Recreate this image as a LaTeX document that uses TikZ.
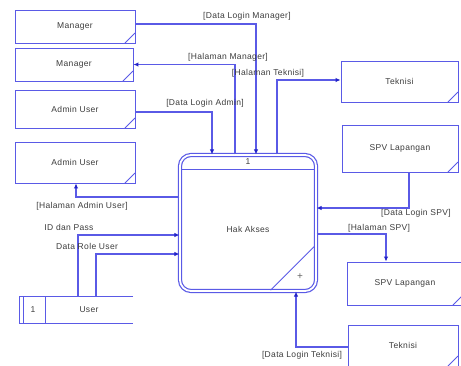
\documentclass[tikz,border=0pt]{standalone}
\usepackage{fontspec}
\setmainfont{Liberation Sans}[LetterSpace=4]
\usetikzlibrary{arrows.meta,calc}
\definecolor{lc}{RGB}{90,90,230}
\definecolor{ac}{RGB}{35,35,200}
\definecolor{tc}{RGB}{60,60,60}
\tikzset{
  entity/.style={draw=lc, line width=0.9pt, fill=white, font=\fontsize{8.5}{10}\selectfont, text=tc,
    path picture={\draw[lc, line width=0.9pt] ([xshift=-10pt]path picture bounding box.south east) -- ([yshift=10pt]path picture bounding box.south east);}},
  flow/.style={draw=lc, line width=1.2pt, -{Latex[length=5pt,width=4.5pt,color=ac]}},
  lab/.style={font=\fontsize{8.5}{10}\selectfont, text=tc, inner sep=0pt},
  proc/.style={draw=lc, double=white, double distance=1.8pt, line width=1.2pt, rounded corners=11pt, minimum width=136pt, minimum height=136pt, inner sep=0pt},
}
\begin{document}
\begin{tikzpicture}[x=1pt,y=-1pt]
\useasboundingbox (0,0) rectangle (461,365);
% external entities
\node[entity, minimum width=120pt, minimum height=33pt] (m1) at (75,26.5) {Manager};
\node[entity, minimum width=118pt, minimum height=33pt] (m2) at (74,64.5) {Manager};
\node[entity, minimum width=120pt, minimum height=38pt] (a1) at (75,109) {Admin User};
\node[entity, minimum width=120pt, minimum height=41pt] (a2) at (75,162.5) {Admin User};
\node[entity, minimum width=117pt, minimum height=41pt] (t1) at (399.5,81.5) {Teknisi};
\node[entity, minimum width=116pt, minimum height=47pt] (s1) at (400,148.5) {SPV Lapangan};
\node[entity, minimum width=116pt, minimum height=43pt] (s2) at (405,283.5) {SPV Lapangan};
\node[entity, minimum width=110pt, minimum height=41pt] (t2) at (403,345.5) {Teknisi};
% process
\node[proc] (p) at (248,223) {};
\draw[lc, line width=1.1pt] ($(p.north west)+(2.5,15.5)$) -- ($(p.north east)+(-2.5,15.5)$);
\draw[lc, line width=0.9pt] ($(p.south east)+(-2.5,-45)$) -- ($(p.south east)+(-46,-1.5)$);
\node[lab] (pn) at (248,161.5) {1};
\node[lab] (pt) at (248,229) {Hak Akses};
\node[lab, text=tc!80, font=\fontsize{10}{12}\selectfont] (pp) at (300,277) {+};
% data store
\node[minimum width=113pt, minimum height=26pt, inner sep=0pt] (u) at (76.5,310) {};
\draw[lc, line width=0.9pt] (u.north east) -- (u.north west) -- (u.south west) -- (u.south east);
\draw[lc, line width=0.9pt] ([xshift=4pt]u.north west) -- ([xshift=4pt]u.south west);
\draw[lc, line width=0.9pt] ([xshift=26pt]u.north west) -- ([xshift=26pt]u.south west);
\node[lab] (un) at (33,310) {1};
\node[lab] (ut) at (89,310) {User};
% flows
\draw[flow] ([yshift=2.5pt]m1.east) -| ([xshift=8pt]p.north);
\draw[flow] ([xshift=-13pt]p.north) |- (m2.east);
\draw[flow] ([xshift=29pt]p.north) |- ([yshift=1.5pt]t1.west);
\draw[flow] ([yshift=-3pt]a1.east) -| ([xshift=-36pt]p.north);
\draw[flow] ([yshift=26pt]p.west) -| ([xshift=1pt]a2.south);
\draw[flow] ([xshift=1.5pt]u.north) |- ([yshift=-12pt]p.west);
\draw[flow] ([xshift=19.5pt]u.north) |- ([yshift=-31pt]p.west);
\draw[flow] ([xshift=9pt]s1.south) |- ([yshift=15pt]p.east);
\draw[flow] ([yshift=-11pt]p.east) -| ([xshift=-19pt]s2.north);
\draw[flow] ([yshift=-1.5pt]t2.west) -| ([xshift=48pt]p.south);
% labels
\node[lab] (l1) at (247,16) {[Data Login Manager]};
\node[lab] (l2) at (228,57) {[Halaman Manager]};
\node[lab] (l3) at (268,73.5) {[Halaman Teknisi]};
\node[lab] (l4) at (205,103) {[Data Login Admin]};
\node[lab] (l5) at (82,206) {[Halaman Admin User]};
\node[lab] (l6) at (69,227) {ID dan Pass};
\node[lab] (l7) at (87,246) {Data Role User};
\node[lab] (l8) at (416,213) {[Data Login SPV]};
\node[lab] (l9) at (379,228) {[Halaman SPV]};
\node[lab] (l10) at (302,355) {[Data Login Teknisi]};
\end{tikzpicture}
\end{document}
